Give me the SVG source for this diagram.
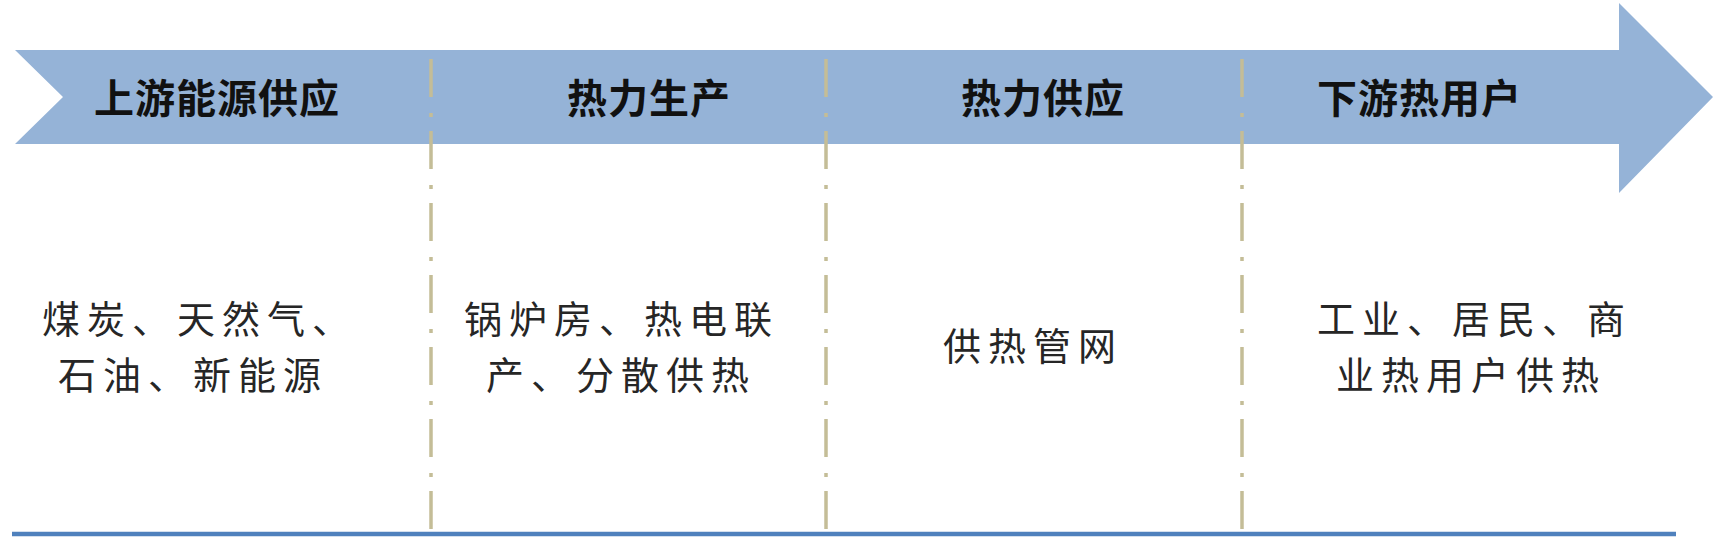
<svg xmlns="http://www.w3.org/2000/svg" width="1716" height="554" viewBox="0 0 1716 554">
  <style>
    .hdr { font-family: "Noto Sans CJK SC", "Liberation Sans", sans-serif; font-size: 40px; font-weight: 600; fill: #111111; letter-spacing: 1px; }
    .body { font-family: "Noto Sans CJK SC", "Liberation Sans", sans-serif; font-size: 38px; fill: #262626; letter-spacing: 7px; }
    .div { stroke: #C4BD97; stroke-width: 3.5; stroke-dasharray: 38 16 4 14; fill: none; }
  </style>
  <rect width="1716" height="554" fill="#ffffff"/>
  <g id="arrow-band">
    <polygon points="15,50 1619,50 1619,3 1713,97 1619,193 1619,144 15,144 63,97" fill="#95B3D7"/>
  </g>
  <g id="connectors">
    <line class="div" x1="431" y1="59" x2="431" y2="534"/>
    <line class="div" x1="826" y1="59" x2="826" y2="534"/>
    <line class="div" x1="1242" y1="59" x2="1242" y2="534"/>
    <line x1="12" y1="534" x2="1676" y2="534" stroke="#4F81BD" stroke-width="4.5"/>
  </g>
  <g id="stage-upstream">
    <text class="hdr" x="94" y="113">上游能源供应</text>
    <text class="body" x="42" y="333">煤炭、天然气、</text>
    <text class="body" x="58" y="389">石油、新能源</text>
  </g>
  <g id="stage-production">
    <text class="hdr" x="567" y="113">热力生产</text>
    <text class="body" x="464" y="333">锅炉房、热电联</text>
    <text class="body" x="486" y="389">产、分散供热</text>
  </g>
  <g id="stage-supply">
    <text class="hdr" x="961" y="113">热力供应</text>
    <text class="body" x="943" y="360">供热管网</text>
  </g>
  <g id="stage-downstream">
    <text class="hdr" x="1317" y="113">下游热用户</text>
    <text class="body" x="1317" y="333">工业、居民、商</text>
    <text class="body" x="1336" y="389">业热用户供热</text>
  </g>
</svg>
